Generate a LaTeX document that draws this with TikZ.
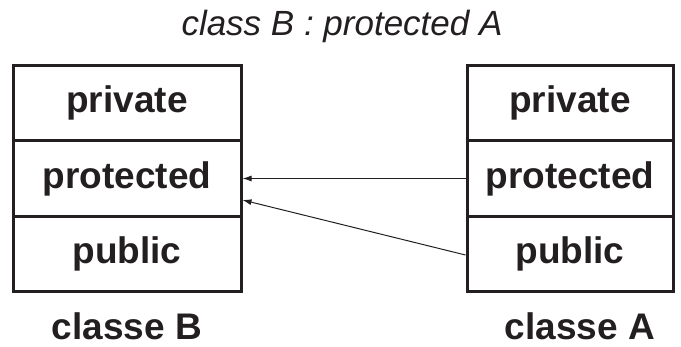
\documentclass[tikz,border=0pt]{standalone}
\usepackage{fontspec}
\setmainfont{Liberation Sans}
\usetikzlibrary{arrows.meta}
\definecolor{ink}{RGB}{35,31,32}
\tikzset{
  cell/.style={draw=ink, line width=3pt, minimum height=75.5pt, inner sep=0pt,
    font=\fontsize{37}{40}\selectfont\bfseries, text=ink},
  cellB/.style={cell, minimum width=228pt},
  cellA/.style={cell, minimum width=206pt},
  lbl/.style={anchor=base, font=\fontsize{37}{40}\selectfont\bfseries, text=ink, inner sep=0pt},
  ttl/.style={anchor=base, font=\fontsize{35}{38}\selectfont\itshape, text=ink, inner sep=0pt},
  conn/.style={line width=1pt, draw=ink, -{Latex[length=9pt,width=6pt]}}
}
\begin{document}
\begin{tikzpicture}[x=1pt,y=-1pt]
\useasboundingbox (0,0) rectangle (681,346);
\node[ttl] (title) at (342,35) {class B : protected A};
% class B
\node[cellB] (Bpriv) at (127,103) {private};
\node[cellB] (Bprot) at (127,178.5) {protected};
\node[cellB] (Bpub) at (127,254) {public};
% class A
\node[cellA] (Apriv) at (570,103) {private};
\node[cellA] (Aprot) at (570,178.5) {protected};
\node[cellA] (Apub) at (570,254) {public};
\node[lbl] (labB) at (127,339) {classe B};
\node[lbl] (labA) at (580,339) {classe A};
\draw[conn] (Aprot.west) -- (Bprot.east);
\draw[conn] ([yshift=-1pt]Apub.west) -- ([yshift=-21.5pt]Bprot.east);
\end{tikzpicture}
\end{document}
